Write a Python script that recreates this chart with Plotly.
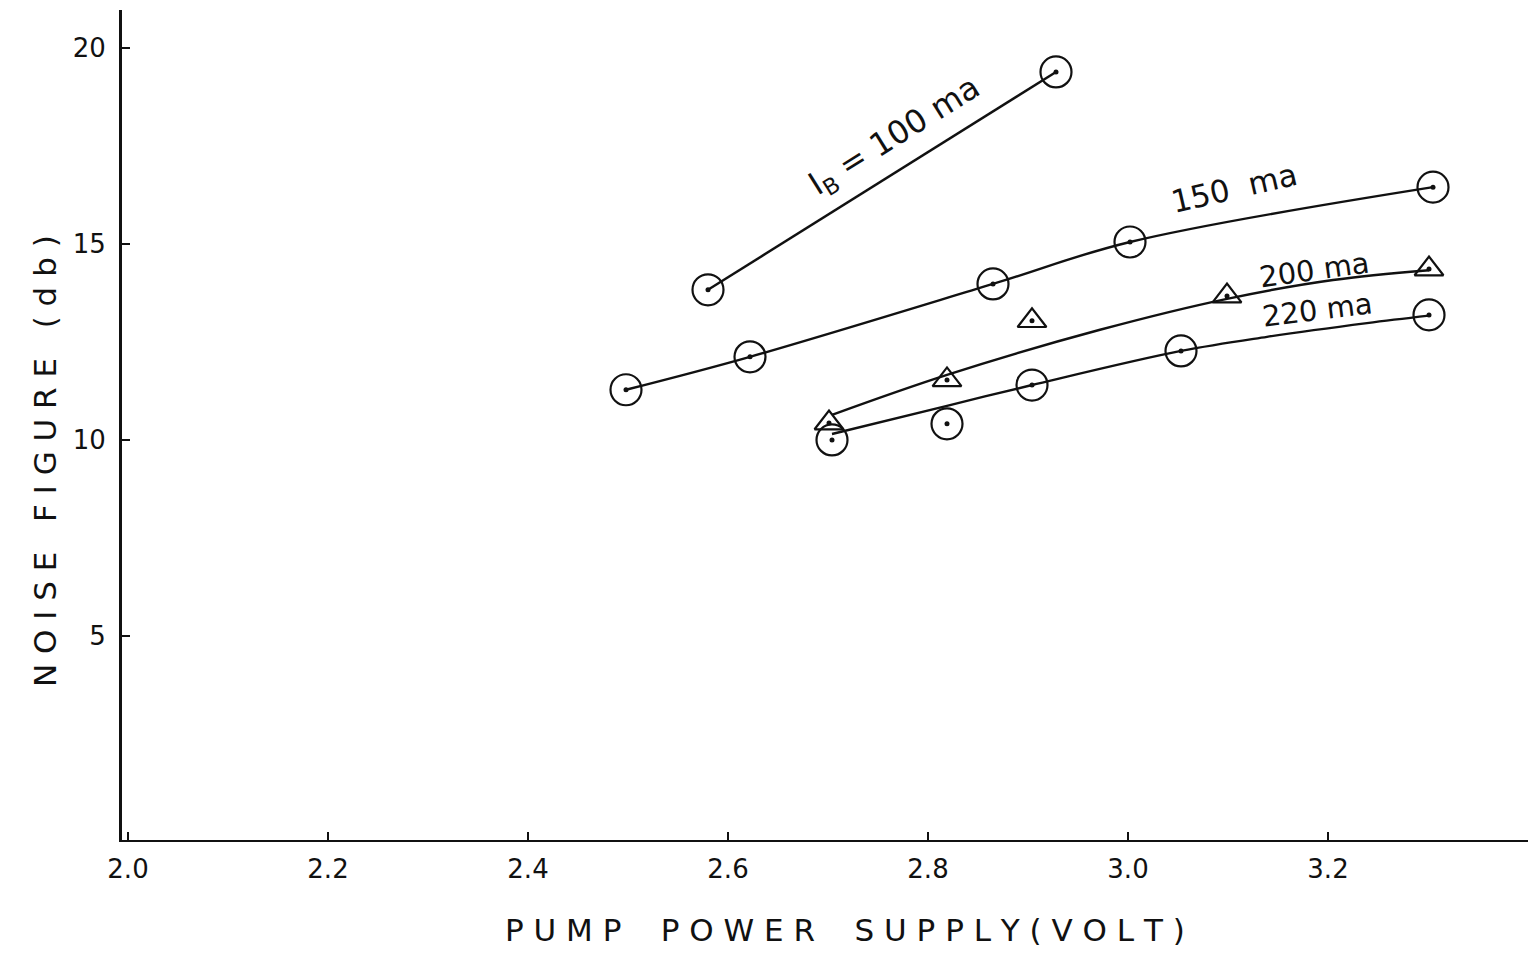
import plotly.graph_objects as go

# ---- data ----
ib100_x = [2.58, 2.928]
ib100_y = [13.83, 19.39]

ib150_x = [2.498, 2.622, 2.865, 3.002, 3.305]
ib150_y = [11.28, 12.12, 13.98, 15.05, 16.45]

ib200_x = [2.701, 2.819, 2.904, 3.099, 3.301]
ib200_y = [10.43, 11.53, 13.04, 13.67, 14.36]
# hand-drawn smooth curve through the 200 ma data
ib200_fit_x = [2.704, 2.819, 2.972, 3.099, 3.205, 3.301]
ib200_fit_y = [10.64, 11.66, 12.81, 13.60, 14.08, 14.33]

ib220_x = [2.704, 2.819, 2.904, 3.053, 3.301]
ib220_y = [10.00, 10.41, 11.40, 12.27, 13.19]
# hand-drawn smooth curve through the 220 ma data
ib220_fit_x = [2.704, 2.819, 2.904, 3.053, 3.139, 3.239, 3.301]
ib220_fit_y = [10.15, 10.87, 11.40, 12.27, 12.63, 12.98, 13.17]

x_ticks = [2.0, 2.2, 2.4, 2.6, 2.8, 3.0, 3.2]
x_tick_text = ["2.0", "2.2", "2.4", "2.6", "2.8", "3.0", "3.2"]
y_ticks = [5, 10, 15, 20]
y_tick_text = ["5", "10", "15", "20"]

FONT = "DejaVu Sans"
INK = "#111111"

fig = go.Figure()

def line(x, y):
    fig.add_trace(go.Scatter(x=x, y=y, mode="lines",
                             line=dict(color=INK, width=2.4, shape="spline", smoothing=1.0),
                             hoverinfo="skip", showlegend=False))

def pts(x, y, sym, size):
    fig.add_trace(go.Scatter(x=x, y=y, mode="markers",
                             marker=dict(symbol=sym, size=size, color=INK,
                                         line=dict(color=INK, width=2.2)),
                             showlegend=False))
    fig.add_trace(go.Scatter(x=x, y=y, mode="markers",
                             marker=dict(symbol="circle", size=5, color=INK),
                             hoverinfo="skip", showlegend=False))

line(ib100_x, ib100_y)
line(ib150_x, ib150_y)
line(ib200_fit_x, ib200_fit_y)
line(ib220_fit_x, ib220_fit_y)

pts(ib100_x, ib100_y, "circle-open", 31)
pts(ib150_x, ib150_y, "circle-open", 31)
pts(ib200_x, ib200_y, "triangle-up-open", 25)
pts(ib220_x, ib220_y, "circle-open", 31)

labels = [
    (2.767, 17.73, "I<sub>B</sub> = 100 ma", -32, 32),
    (3.106, 16.43, "150  ma", -13, 31),
    (3.186, 14.34, "200 ma", -8, 29),
    (3.189, 13.32, "220 ma", -7, 29),
]
for lx, ly, t, ang, fs in labels:
    fig.add_annotation(x=lx, y=ly, text=t, showarrow=False, textangle=ang,
                       font=dict(family=FONT, size=fs, color=INK))

# axis titles placed as in the reference
fig.add_annotation(xref="paper", yref="paper", x=-0.0548, y=0.4566,
                   xanchor="center", yanchor="middle",
                   text="N O I S E   F I G U R E   ( d b )", textangle=-90,
                   showarrow=False, font=dict(family=FONT, size=31, color=INK))
fig.add_annotation(xref="paper", yref="paper", x=0.514, y=-0.108,
                   xanchor="center", yanchor="middle",
                   text="P U M P    P O W E R    S U P P L Y ( V O L T )",
                   showarrow=False, font=dict(family=FONT, size=31, color=INK))

fig.update_layout(
    width=1529, height=954,
    margin=dict(l=122, r=1, t=10, b=114),
    paper_bgcolor="white", plot_bgcolor="white",
    font=dict(family=FONT, color=INK),
)
fig.update_xaxes(range=[1.994, 3.40], tickvals=x_ticks, ticktext=x_tick_text,
                 ticks="inside", ticklen=8, tickwidth=2, tickcolor=INK,
                 showline=True, linecolor=INK, linewidth=2, showgrid=False, zeroline=False,
                 tickfont=dict(size=26, family=FONT), ticklabelstandoff=5)
fig.update_yaxes(range=[-0.21, 20.97], tickvals=y_ticks, ticktext=y_tick_text,
                 ticks="inside", ticklen=8, tickwidth=2, tickcolor=INK,
                 showline=True, linecolor=INK, linewidth=3, showgrid=False, zeroline=False,
                 tickfont=dict(size=26, family=FONT), ticklabelstandoff=8)

fig.write_html("out.html")
